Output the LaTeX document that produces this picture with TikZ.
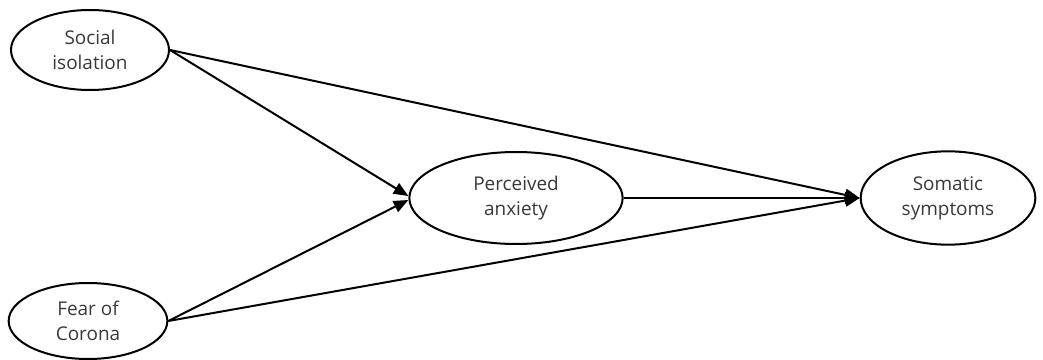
\documentclass[tikz,border=0pt]{standalone}
\usepackage{fontspec}
\setmainfont{Open Sans}
\usetikzlibrary{shapes.geometric,arrows.meta}
\begin{document}
\begin{tikzpicture}[x=0.75pt,y=-0.75pt,
  var/.style={ellipse,draw,line width=1.5pt,inner sep=0pt,align=center,
    text=black!78,font=\fontsize{14.2}{18.5}\selectfont},
  path/.style={line width=1.5pt,-{Triangle[length=11pt,width=9pt]}}]
\useasboundingbox (0,0) rectangle (1043,360);
\node[var,minimum width=118.5pt,minimum height=60pt] (si) at (90,50) {Social\\isolation};
\node[var,minimum width=119pt,minimum height=57pt] (fc) at (88,321) {Fear of\\Corona};
\node[var,minimum width=160pt,minimum height=69pt] (pa) at (516,198) {Perceived\\anxiety};
\node[var,minimum width=131pt,minimum height=70pt] (sm) at (948,198) {Somatic\\symptoms};
\draw[path] (si.east) -- ([yshift=1.5pt]pa.west);
\draw[path] (fc.east) -- ([yshift=-1.5pt]pa.west);
\draw[path] (si.east) -- (sm.west);
\draw[path] (fc.east) -- (sm.west);
\draw[path] (pa.east) -- (sm.west);
\end{tikzpicture}
\end{document}
